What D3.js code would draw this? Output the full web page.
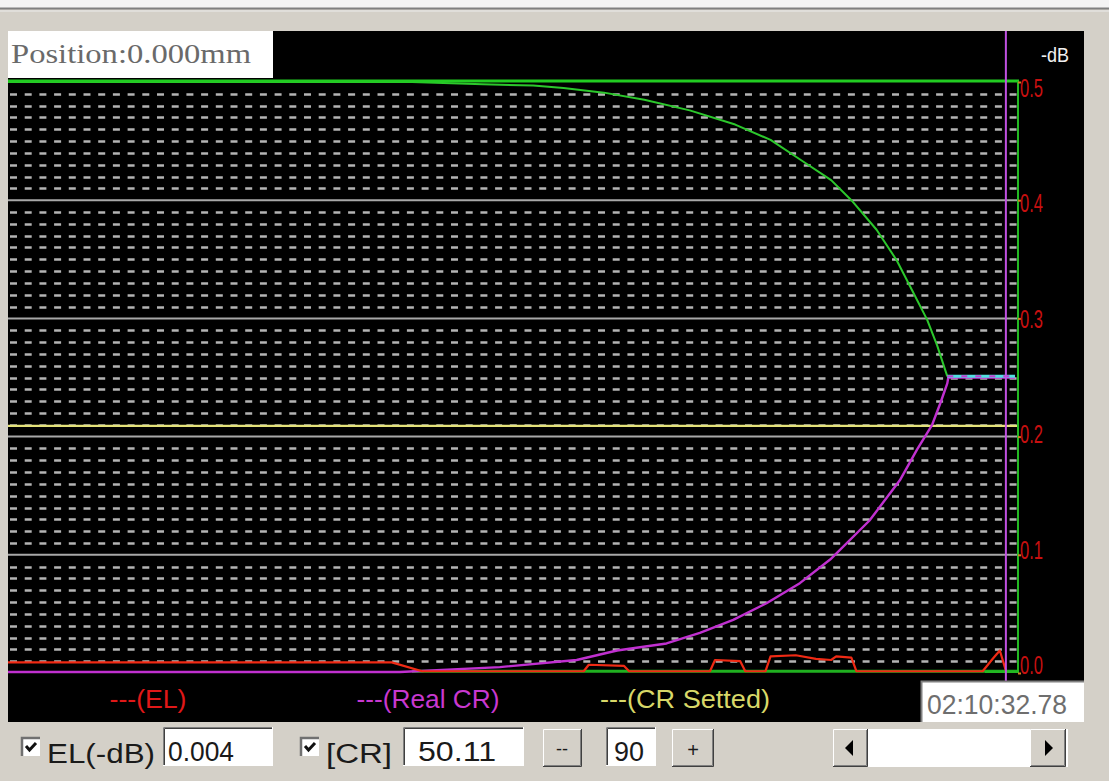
<!DOCTYPE html>
<html lang="en">
<head>
<meta charset="utf-8">
<title>CR monitor</title>
<script src="https://d3js.org/d3.v7.min.js"></script>
<style>
  body { margin: 0; background: #d4d0c8; }
  svg { display: block; }
</style>
</head>
<body>
<script>
const W = 1109, H = 781;

// ---- data ----
const yTicks = [0, 0.1, 0.2, 0.3, 0.4, 0.5];

// green upper curve
const upperTime = [0, 40, 47, 52, 55, 59, 63, 67.5, 72, 75.5, 78.5, 81.5, 83.5, 86, 88, 89.5, 91, 92, 93];
const upperVals = [0.5, 0.5, 0.498, 0.497, 0.495, 0.491, 0.485, 0.476, 0.464, 0.451, 0.434, 0.417, 0.400, 0.375, 0.349, 0.324, 0.299, 0.277, 0.251];

// cyan settled part
const flatTime = [93, 99.7];
const flatVals = [0.251, 0.251];

// Real CR (magenta)
const realTime = [0, 38.8, 48.7, 56.3, 60.3, 65.2, 68.5, 71.8, 75.1, 78.4, 81.4, 85.3, 88.3, 90, 91.5, 92.3, 93, 93.1, 99.7];
const realVals = [0.0008, 0.0008, 0.005, 0.011, 0.019, 0.025, 0.034, 0.045, 0.059, 0.076, 0.096, 0.129, 0.163, 0.189, 0.210, 0.228, 0.245, 0.25, 0.25];

// EL (red)
const elTime = [0, 38, 41, 57, 57.5, 61, 61.5, 69.5, 70, 72.5, 73, 75, 75.5, 78, 80, 81.5, 82, 83.5, 84, 96.5, 97.5, 98.2, 98.8];
const elVals = [0.009, 0.009, 0.0015, 0.0015, 0.007, 0.006, 0.0015, 0.0015, 0.011, 0.010, 0.0015, 0.0015, 0.014, 0.015, 0.012, 0.011, 0.014, 0.013, 0.0015, 0.0015, 0.012, 0.019, 0.002];

// green base line near zero
const baseTime = [40, 100];
const baseVals = [0.0015, 0.0015];

// CR setted (yellow)
const crSetted = 0.209;
const cursorTime = 98.8;

const legendNames = ["---(EL)", "---(Real CR)", "---(CR Setted)"];
const legendColors = ["#e01818", "#c838d0", "#d8d868"];

// ---- layout ----
const svg = d3.select("body").append("svg")
  .attr("width", W).attr("height", H)
  .style("font-family", "'Liberation Sans', Arial, sans-serif");

svg.append("rect").attr("width", W).attr("height", H).attr("fill", "#d4d0c8");
svg.append("rect").attr("width", W).attr("height", 8).attr("fill", "#f4f4f4");
svg.append("line").attr("x1", 0).attr("x2", W).attr("y1", 8.5).attr("y2", 8.5)
  .attr("stroke", "#808080").attr("stroke-width", 2);
svg.append("line").attr("x1", 0).attr("x2", W).attr("y1", 11).attr("y2", 11)
  .attr("stroke", "#ececec").attr("stroke-width", 1);

// black plot panel
svg.append("rect").attr("x", 8).attr("y", 31).attr("width", 1076).attr("height", 691).attr("fill", "#000");

const x = d3.scaleLinear().domain([0, 100]).range([8, 1018]);
const y = d3.scaleLinear().domain([0, 0.5]).range([673, 82]);
// the program draws its tick labels on a slightly tighter scale than the grid
const yLabel = d3.scaleLinear().domain([0, 0.5]).range([665, 88]);

// minor dotted grid every 0.01
const minor = d3.range(1, 50).filter(i => i % 10 !== 0).map(i => i / 100);
svg.append("g").selectAll("line").data(minor).join("line")
  .attr("x1", 10).attr("x2", 1017)
  .attr("y1", d => Math.round(y(d)) + 0.5).attr("y2", d => Math.round(y(d)) + 0.5)
  .attr("stroke", "#b4b4b4").attr("stroke-width", 2.4)
  .attr("stroke-dasharray", "7,7.7");

// major solid grid
svg.append("g").selectAll("line").data(yTicks.filter(d => d > 0 && d < 0.5)).join("line")
  .attr("x1", 8).attr("x2", 1017)
  .attr("y1", d => y(d)).attr("y2", d => y(d))
  .attr("stroke", "#a8a8a8").attr("stroke-width", 2);

// CR setted
svg.append("line").attr("x1", 8).attr("x2", 1017)
  .attr("y1", y(crSetted)).attr("y2", y(crSetted))
  .attr("stroke", "#e4e27a").attr("stroke-width", 2.2);

const line = d3.line().x(d => x(d[0])).y(d => y(d[1]));
const pts = (t, v) => t.map((d, i) => [d, v[i]]);

function series(t, v, color, w, dash) {
  const p = svg.append("path").datum(pts(t, v))
    .attr("d", line).attr("fill", "none")
    .attr("stroke", color).attr("stroke-width", w)
    .attr("stroke-linejoin", "round");
  if (dash) p.attr("stroke-dasharray", dash);
  return p;
}

series(baseTime, baseVals, "#20b020", 3);
series(realTime, realVals, "#c030d0", 2.4);
series(upperTime, upperVals, "#2cc82c", 2);
series(flatTime, flatVals, "#50e0e0", 3);
series(flatTime, flatVals, "#c040d0", 2, "6,8");
series(elTime, elVals, "#f02a14", 2.2);

// plot frame (green)
svg.append("line").attr("x1", 8).attr("x2", 1019).attr("y1", 81).attr("y2", 81)
  .attr("stroke", "#22cc22").attr("stroke-width", 3);
svg.append("line").attr("x1", 1018).attr("x2", 1018).attr("y1", 81).attr("y2", 673)
  .attr("stroke", "#22b822").attr("stroke-width", 2);
svg.append("line").attr("x1", 985).attr("x2", 1018).attr("y1", 672).attr("y2", 672)
  .attr("stroke", "#22b822").attr("stroke-width", 2);

// cursor
svg.append("line").attr("x1", x(cursorTime)).attr("x2", x(cursorTime))
  .attr("y1", 31).attr("y2", 686)
  .attr("stroke", "#c050e0").attr("stroke-width", 2);

// right axis: tick marks from the axis, labels placed with the label scale
const axis = svg.append("g").attr("transform", "translate(1018,0)")
  .call(d3.axisRight(y).tickValues(yTicks).tickFormat("").tickSize(3));
axis.select(".domain").remove();
axis.selectAll(".tick line").attr("stroke", "#d08020").attr("stroke-width", 2);

svg.append("g").selectAll("text").data(yTicks).join("text")
  .attr("x", 1020).attr("y", d => yLabel(d) + 9)
  .attr("fill", "#c81010")
  .attr("font-size", 25)
  .attr("textLength", 23).attr("lengthAdjust", "spacingAndGlyphs")
  .text(d => d3.format(".1f")(d));

svg.append("text").attr("x", 1041).attr("y", 62).attr("fill", "#f0f0f0")
  .attr("font-size", 21).attr("textLength", 28).attr("lengthAdjust", "spacingAndGlyphs").text("-dB");

// position box
svg.append("rect").attr("x", 8).attr("y", 31).attr("width", 265).attr("height", 47).attr("fill", "#fff");
svg.append("text").attr("x", 11).attr("y", 63)
  .attr("font-family", "'Liberation Serif', 'DejaVu Serif', serif")
  .attr("font-size", 28).attr("fill", "#6a6a6a")
  .attr("textLength", 240).attr("lengthAdjust", "spacingAndGlyphs")
  .text("Position:0.000mm");

// legend
const legendX = [148, 428, 685];
const legendLen = [77, 143, 170];
svg.append("g").selectAll("text").data(legendNames).join("text")
  .attr("x", (d, i) => legendX[i]).attr("y", 708)
  .attr("text-anchor", "middle").attr("font-size", 26)
  .attr("fill", (d, i) => legendColors[i])
  .attr("textLength", (d, i) => legendLen[i]).attr("lengthAdjust", "spacingAndGlyphs")
  .text(d => d);

// ---- Win classic controls ----
function sunken(x0, y0, w, h) {
  svg.append("rect").attr("x", x0).attr("y", y0).attr("width", w).attr("height", h).attr("fill", "#fff");
  svg.append("path").attr("d", `M${x0 + 0.5},${y0 + h}V${y0 + 0.5}H${x0 + w}`).attr("fill", "none").attr("stroke", "#808080");
  svg.append("path").attr("d", `M${x0 + 1.5},${y0 + h - 1}V${y0 + 1.5}H${x0 + w - 1}`).attr("fill", "none").attr("stroke", "#404040");
  svg.append("path").attr("d", `M${x0},${y0 + h - 0.5}H${x0 + w - 0.5}V${y0}`).attr("fill", "none").attr("stroke", "#ffffff");
}
function raised(x0, y0, w, h) {
  svg.append("rect").attr("x", x0).attr("y", y0).attr("width", w).attr("height", h).attr("fill", "#d4d0c8");
  svg.append("path").attr("d", `M${x0 + 0.5},${y0 + h}V${y0 + 0.5}H${x0 + w}`).attr("fill", "none").attr("stroke", "#ffffff");
  svg.append("path").attr("d", `M${x0},${y0 + h - 0.5}H${x0 + w - 0.5}V${y0}`).attr("fill", "none").attr("stroke", "#404040");
  svg.append("path").attr("d", `M${x0 + 1},${y0 + h - 1.5}H${x0 + w - 1.5}V${y0 + 1}`).attr("fill", "none").attr("stroke", "#808080");
}
function checkbox(x0, y0) {
  svg.append("rect").attr("x", x0).attr("y", y0).attr("width", 19).attr("height", 19).attr("fill", "#fff");
  svg.append("path").attr("d", `M${x0 + 1},${y0 + 19}V${y0 + 1}H${x0 + 19}`).attr("fill", "none")
    .attr("stroke", "#707070").attr("stroke-width", 2.5);
  svg.append("path").attr("d", `M${x0 + 5},${y0 + 9}l3.5,4l6.5,-7`)
    .attr("fill", "none").attr("stroke", "#111").attr("stroke-width", 3);
}
function label(x0, y0, s, len, fill) {
  const t = svg.append("text").attr("x", x0).attr("y", y0)
    .attr("font-size", 27).attr("fill", fill || "#1a1a1a").text(s);
  if (len) t.attr("textLength", len).attr("lengthAdjust", "spacingAndGlyphs");
  return t;
}

// timestamp box
svg.append("rect").attr("x", 921).attr("y", 681).attr("width", 163).attr("height", 41).attr("fill", "#fff");
svg.append("path").attr("d", "M921.5,722V681.5H1084").attr("fill", "none").attr("stroke", "#808080").attr("stroke-width", 2);
label(927, 714, "02:10:32.78", 140, "#6e6e6e");

checkbox(21, 737);
label(47, 763, "EL(-dB)", 108);
sunken(163, 727, 110, 39);
label(168, 761, "0.004", 66);

checkbox(300, 737);
label(326, 763, "[CR]", 66);
sunken(403, 727, 121, 39);
label(418, 761, "50.11", 78);

raised(543, 729, 39, 38);
label(562, 755, "--").attr("text-anchor", "middle").attr("font-size", 18);
sunken(606, 727, 50, 39);
label(614, 761, "90", 30);
raised(672, 729, 42, 38);
label(693, 757, "+").attr("text-anchor", "middle").attr("font-size", 20);

// scrollbar
svg.append("rect").attr("x", 833).attr("y", 729).attr("width", 235).attr("height", 38).attr("fill", "#fff");
raised(833, 729, 35, 38);
raised(1030, 729, 36, 38);
svg.append("path").attr("d", "M845,748l8,-8v16z").attr("fill", "#000");
svg.append("path").attr("d", "M1053,748l-8,-8v16z").attr("fill", "#000");
</script>
</body>
</html>
